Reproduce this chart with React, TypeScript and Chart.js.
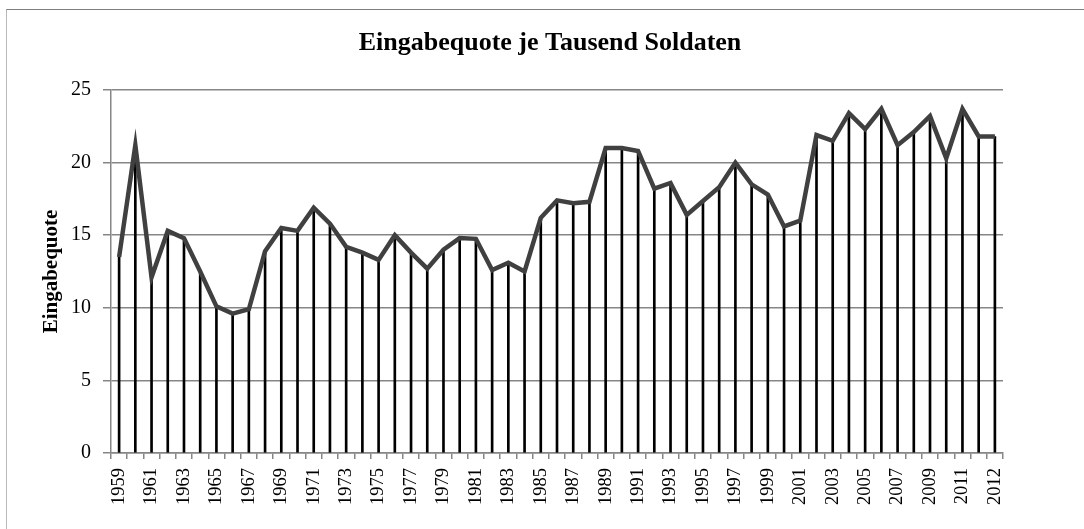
import { useEffect, useRef } from "react";
import { Chart, registerables } from "chart.js";

Chart.register(...registerables);

const years: string[] = [
  "1959", "1960", "1961", "1962", "1963", "1964", "1965", "1966", "1967", "1968",
  "1969", "1970", "1971", "1972", "1973", "1974", "1975", "1976", "1977", "1978",
  "1979", "1980", "1981", "1982", "1983", "1984", "1985", "1986", "1987", "1988",
  "1989", "1990", "1991", "1992", "1993", "1994", "1995", "1996", "1997", "1998",
  "1999", "2000", "2001", "2002", "2003", "2004", "2005", "2006", "2007", "2008",
  "2009", "2010", "2011", "2012", "2012",
];

const quote: number[] = [
  13.5, 21.2, 12.1, 15.3, 14.8, 12.5, 10.1, 9.6, 9.9, 13.9,
  15.5, 15.3, 16.9, 15.8, 14.2, 13.8, 13.3, 15.0, 13.8, 12.7,
  14.0, 14.8, 14.75, 12.6, 13.1, 12.5, 16.2, 17.4, 17.2, 17.3,
  21.0, 21.0, 20.8, 18.2, 18.6, 16.4, 17.35, 18.3, 20.0, 18.5,
  17.8, 15.6, 16.0, 21.9, 21.5, 23.4, 22.3, 23.7, 21.2, 22.1,
  23.2, 20.3, 23.7, 21.8, 21.8,
];

const yMin = 0;
const yMax = 25;
const yStep = 5;

const chartTitle = "Eingabequote je Tausend Soldaten";
const yTitle = "Eingabequote";

const FONT = "'Liberation Serif', 'Times New Roman', serif";
const GRID = "#868686";

export default function App() {
  const ref = useRef<HTMLCanvasElement>(null);

  useEffect(() => {
    document.body.style.overflow = "hidden";
    const chart = new Chart(ref.current!, {
      type: "bar",
      data: {
        labels: years,
        datasets: [
          {
            type: "line",
            data: quote,
            borderColor: "#404040",
            borderWidth: 4.5,
            pointRadius: 0,
            tension: 0,
            fill: false,
            order: 0,
            yAxisID: "y",
          } as any,
          {
            type: "bar",
            data: quote,
            backgroundColor: "#000000",
            barThickness: 2,
            order: 1,
            yAxisID: "y",
          } as any,
        ],
      },
      options: {
        responsive: false,
        animation: false,
        events: [],
        layout: { padding: 0 },
        plugins: {
          legend: { display: false },
          tooltip: { enabled: false },
          title: {
            display: true,
            text: chartTitle,
            color: "#000",
            font: { family: FONT, size: 26, weight: "bold" },
            padding: { top: 27.4, bottom: 31.4 },
            fullSize: true,
          },
        },
        scales: {
          x: {
            offset: true,
            grid: {
              drawOnChartArea: false,
              offset: true,
              tickLength: 6,
              color: GRID,
              lineWidth: 1.5,
            },
            border: { color: GRID, width: 1.5 },
            ticks: {
              autoSkip: false,
              maxRotation: 90,
              minRotation: 90,
              padding: 9,
              color: "#000",
              font: { family: FONT, size: 18.5 },
              callback: (_v: any, i: number) => (i % 2 === 0 ? years[i] : ""),
            },
            afterFit: (s: any) => {
              s.height = 76;
            },
          },
          y: {
            position: "left",
            min: yMin,
            max: yMax,
            ticks: {
              stepSize: yStep,
              padding: 12,
              color: "#000",
              font: { family: FONT, size: 20 },
            },
            grid: { color: GRID, lineWidth: 1.5, tickLength: 8 },
            border: { color: GRID, width: 1.5 },
            title: {
              display: true,
              text: yTitle,
              color: "#000",
              font: { family: FONT, size: 21, weight: "bold" },
              padding: { top: 39.4, bottom: 0 },
            },
            afterFit: (s: any) => {
              s.width = 111;
            },
          },
          spacer: {
            type: "linear",
            position: "right",
            display: true,
            grid: { display: false, drawTicks: false },
            border: { display: false },
            ticks: { display: false },
            afterFit: (s: any) => {
              s.width = 97;
            },
          },
        },
      } as any,
    });
    return () => chart.destroy();
  }, []);

  return (
    <>
      <div
        style={{
          position: "fixed",
          left: 6,
          top: 8.5,
          width: 1200,
          height: 700,
          borderTop: "1.5px solid #7f7f7f",
          borderLeft: "1.5px solid #b9b9b9",
          pointerEvents: "none",
        }}
      />
      <canvas
        ref={ref}
        width={1100}
        height={529}
        style={{ position: "fixed", left: 0, top: 0, display: "block" }}
      />
    </>
  );
}
